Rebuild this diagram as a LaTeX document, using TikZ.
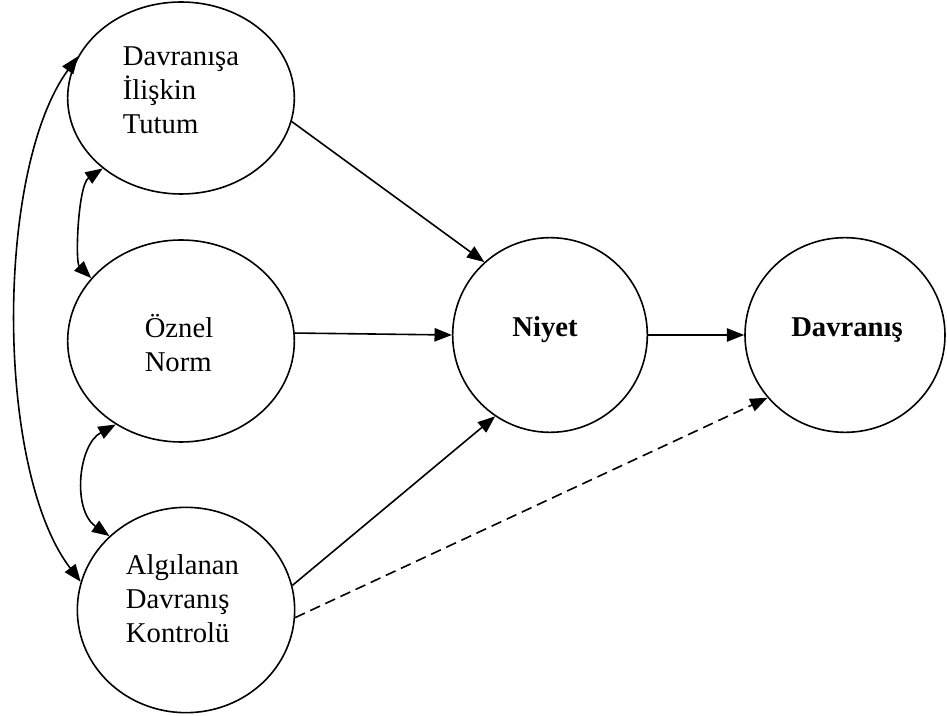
\documentclass[tikz,border=0pt]{standalone}
\usepackage{fontspec}
\setmainfont{Liberation Serif}
\usetikzlibrary{shapes.geometric,arrows.meta}

\begin{document}
\begin{tikzpicture}[x=0.75pt,y=0.75pt,yscale=-1,
		oval/.style={draw,ellipse,line width=1.2pt,inner sep=0pt},
		lbl/.style={font=\fontsize{21.5}{25.5}\selectfont,align=left,inner sep=0pt},
		link/.style={line width=1.2pt,-{Triangle[length=13pt,width=10pt]}},
		both/.style={line width=1.2pt,{Triangle[length=13pt,width=10pt]}-{Triangle[length=13pt,width=10pt]}}]
		\useasboundingbox (0,0) rectangle (947,716);
		
		% ovals
		\node[oval,minimum width=170pt,minimum height=144pt] (tutum) at (181,98) {};
		\node[oval,minimum width=170pt,minimum height=151.5pt] (oznel) at (181,341) {};
		\node[oval,minimum width=163pt,minimum height=154pt] (algilanan) at (186,610) {};
		\node[oval,minimum width=146pt,minimum height=146pt] (niyet) at (550,335) {};
		\node[oval,minimum width=150pt,minimum height=146pt] (davranis) at (845,335) {};
		
		% labels
		\node[lbl] (tutumtxt) at (181,90.5) {Davranışa\\İlişkin\\Tutum};
		\node[lbl] (ozneltxt) at (179,343) {Öznel\\Norm};
		\node[lbl] (algilanantxt) at (182.5,599) {Algılanan\\Davranış\\Kontrolü};
		\node[lbl,anchor=base,font=\fontsize{21.5}{25.5}\selectfont\bfseries] (niyettxt) at (545,337) {Niyet};
		\node[lbl,anchor=base,font=\fontsize{21.5}{25.5}\selectfont\bfseries] (davranistxt) at (847,337) {Davranış};
		
		% paths
		\draw[link] (tutum.-12) -- (niyet.132);
		\draw[link] (oznel.4) -- (niyet.180);
		\draw[link] (algilanan.13) -- (niyet.-124);
		\draw[link,dash pattern=on 8pt off 4.5pt] (algilanan.-4) -- (davranis.219);
		\draw[link] (niyet.0) -- (davranis.180);
		
		\draw[both] (tutum.158) .. controls (-5,170) and (-5,470) .. (algilanan.165);
		\draw[both] (tutum.222) .. controls (78,185) and (75,262) .. (oznel.145);
		\draw[both] (oznel.232) .. controls (78,445) and (72,510) .. (algilanan.136);
		\end{tikzpicture}
\end{document}
